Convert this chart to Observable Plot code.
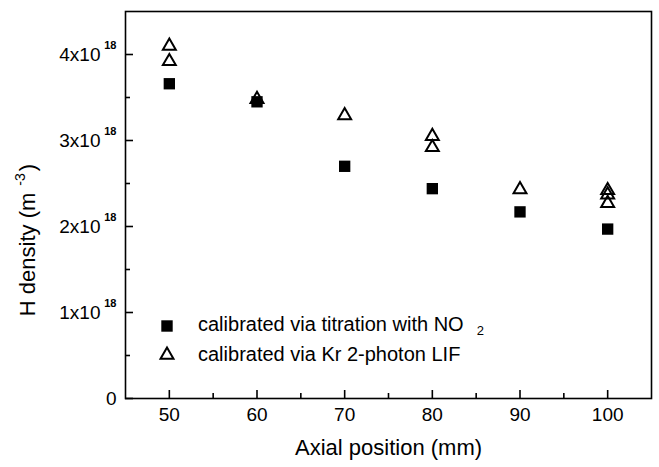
<!DOCTYPE html>
<html>
<head>
<meta charset="utf-8">
<script src="https://cdn.jsdelivr.net/npm/d3@7"></script>
<script src="https://cdn.jsdelivr.net/npm/@observablehq/plot@0.6"></script>
<style>
  body { margin: 0; background: #fff; }
  #chart { position: relative; width: 659px; height: 467px; font-family: "Liberation Sans", Arial, Helvetica, sans-serif; color: #000; }
  #legend { position: absolute; left: 157px; top: 311px; font-size: 20px; line-height: 29px; }
  #legend .row { display: flex; align-items: center; white-space: nowrap; height: 29px; }
  #legend svg { width: 20px; height: 20px; margin-right: 21px; }
  #legend sub { font-size: 13px; position: relative; top: 4px; margin-left: 13px; vertical-align: baseline; }
</style>
</head>
<body>
<div id="chart"></div>
<script>
// Data (H density in units of 1e18 m^-3)
const axialPositions = [50, 60, 70, 80, 90, 100];
const no2Density = [3.66, 3.45, 2.70, 2.44, 2.17, 1.97];
const lifPositions = [50, 50, 60, 70, 80, 80, 90, 100, 100, 100];
const lifDensity = [4.10, 3.92, 3.48, 3.29, 3.05, 2.92, 2.43, 2.42, 2.37, 2.27];

const xTicks = [50, 60, 70, 80, 90, 100];
const xMinorTicks = [55, 65, 75, 85, 95];
const yTicks = [0, 1, 2, 3, 4];
const yMinorTicks = [0.5, 1.5, 2.5, 3.5];
const yTickLabels = ["0", "1x10", "2x10", "3x10", "4x10"];
const yTickExponents = ["", "18", "18", "18", "18"];

const seriesNames = ["calibrated via titration with NO", "calibrated via Kr 2-photon LIF"];
const xTitle = "Axial position (mm)";
const yTitle = "H density (m";
const yTitleExp = "-3";

const no2Rows = axialPositions.map((x, i) => ({x, y: no2Density[i]}));
const lifRows = lifPositions.map((x, i) => ({x, y: lifDensity[i]}));
const yLabelRows = yTicks.map((v, i) => ({v, label: yTickLabels[i], exp: yTickExponents[i]}));

const font = '"Liberation Sans", Arial, Helvetica, sans-serif';

const W = 659, H = 467, ML = 125, MR = 8, MT = 11, MB = 69;
const plotW = W - ML - MR, plotH = H - MT - MB;
const majorLen = 8, minorLen = 5;

const plot = Plot.plot({
  width: W,
  height: H,
  marginLeft: ML,
  marginRight: MR,
  marginTop: MT,
  marginBottom: MB,
  x: {domain: [45, 105], axis: null},
  y: {domain: [0, 4.5], axis: null},
  style: {fontFamily: font, color: "black", background: "white"},
  marks: [
    Plot.frame({strokeWidth: 1.6, stroke: "black"}),
    // inward ticks
    Plot.ruleX(xTicks, {x: d => d, insetTop: plotH - majorLen, stroke: "black", strokeWidth: 1.6}),
    Plot.ruleX(xMinorTicks, {x: d => d, insetTop: plotH - minorLen, stroke: "black", strokeWidth: 1.6}),
    Plot.ruleY(yTicks, {y: d => d, insetRight: plotW - majorLen, stroke: "black", strokeWidth: 1.6}),
    Plot.ruleY(yMinorTicks, {y: d => d, insetRight: plotW - minorLen, stroke: "black", strokeWidth: 1.6}),
    Plot.text(xTicks, {x: d => d, text: d => String(d), frameAnchor: "bottom", dy: 22, fontSize: 19, fill: "black"}),
    Plot.text(yLabelRows.filter(d => d.exp), {y: "v", text: "label", frameAnchor: "left", textAnchor: "end", dx: -25, fontSize: 19, fill: "black"}),
    Plot.text(yLabelRows.filter(d => d.exp), {y: "v", text: "exp", frameAnchor: "left", textAnchor: "end", dx: -9, dy: -9, fontSize: 11, fontWeight: "bold", fill: "black"}),
    Plot.text(yLabelRows.filter(d => !d.exp), {y: "v", text: "label", frameAnchor: "left", textAnchor: "end", dx: -9, fontSize: 19, fill: "black"}),
    Plot.text([xTitle], {frameAnchor: "bottom", text: d => d, dy: 56, fontSize: 22, fill: "black"}),
    Plot.dot(no2Rows, {x: "x", y: "y", symbol: "square", r: 6.4, fill: "black", stroke: "none"}),
    Plot.dot(lifRows, {x: "x", y: "y", symbol: "triangle", r: 4.8, fill: "none", stroke: "black", strokeWidth: 2})
  ]
});

document.getElementById("chart").appendChild(plot);

// Y axis title with superscript
const svg = d3.select(plot);
const yt = svg.append("text")
  .attr("transform", "translate(35,240) rotate(-90)")
  .attr("text-anchor", "middle")
  .attr("font-size", 22)
  .attr("font-family", font)
  .attr("fill", "black");
yt.append("tspan").text(yTitle);
yt.append("tspan").attr("font-size", 14).attr("dx", 7).attr("dy", -10).text(yTitleExp);
yt.append("tspan").attr("dx", 2).attr("dy", 10).text(")");

// Legend (inside plot area)
const legend = document.createElement("div");
legend.id = "legend";
legend.innerHTML = `
  <div class="row"><svg viewBox="-10 -10 20 20"><rect x="-5.7" y="-5.7" width="11.4" height="11.4" fill="black"/></svg><span>${seriesNames[0]}<sub>2</sub></span></div>
  <div class="row"><svg viewBox="-10 -10 20 20"><path d="${d3.symbol(d3.symbolTriangle, Math.PI * 4.8 * 4.8)()}" fill="none" stroke="black" stroke-width="2"/></svg><span>${seriesNames[1]}</span></div>
`;
document.getElementById("chart").appendChild(legend);
</script>
</body>
</html>
